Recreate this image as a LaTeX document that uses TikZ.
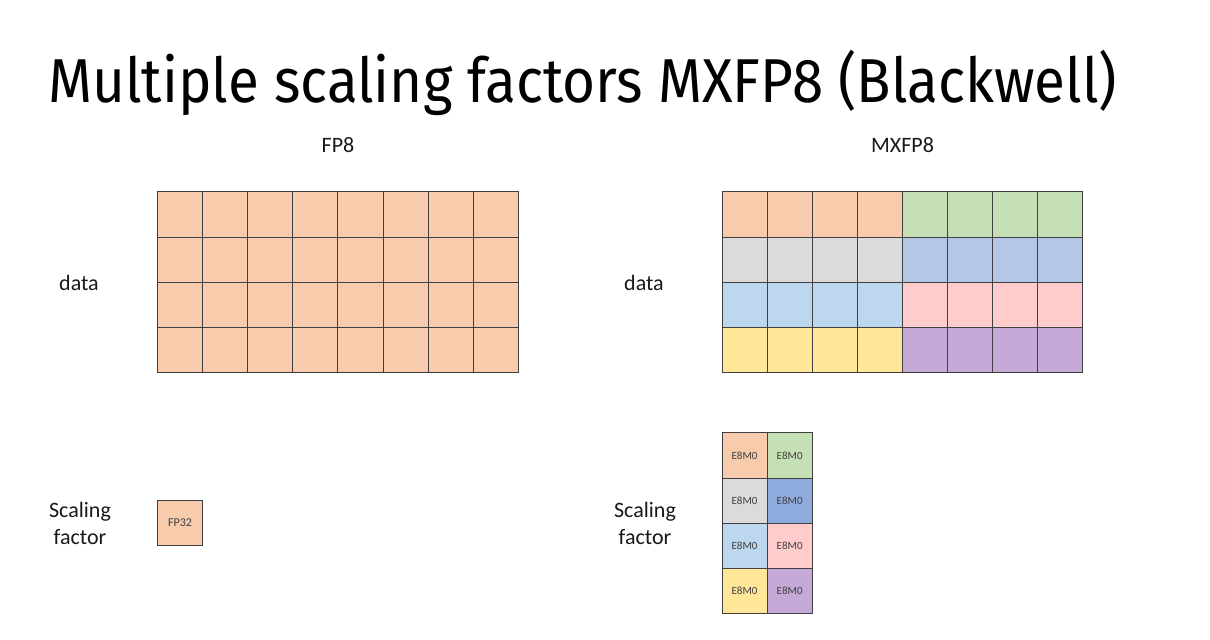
\documentclass[tikz,border=0pt]{standalone}
\usepackage{fontspec}
\setmainfont{Carlito}
\newfontfamily\titlefont[FakeStretch=0.913]{Fira Sans}
\usetikzlibrary{positioning}

\definecolor{cOrange}{HTML}{F8CBAD}
\definecolor{cGreen}{HTML}{C5E0B4}
\definecolor{cGray}{HTML}{DBDBDB}
\definecolor{cBlue}{HTML}{B4C7E7}
\definecolor{cDarkBlue}{HTML}{8FAADC}
\definecolor{cLightBlue}{HTML}{BDD7EE}
\definecolor{cPink}{HTML}{FFCCCC}
\definecolor{cYellow}{HTML}{FFE699}
\definecolor{cPurple}{HTML}{C5A9D7}

\begin{document}
\begin{tikzpicture}[
            x = 0.5pt, y = -0.5pt, % one unit is one pixel
            cell/.style={rectangle, draw=black!75, line width=0.5pt, minimum size=22.55pt, inner sep=0pt},
            scale cell/.style={cell, font=\fontsize{5.5}{6}\selectfont, text=black!75},
            label/.style={font=\fontsize{11}{13.5}\selectfont, align=center, text=black!90}
        ]

        \useasboundingbox (0,0) rectangle (1210,640);
        \node[anchor=base west, inner sep=0pt, font=\titlefont\fontsize{31}{37}\selectfont] (title) at (48,103) {Multiple scaling factors MXFP8 (Blackwell)};

        % Column headings
        \node[label] (fp8-label) at (338,145) {FP8};
        \node[label] (mxfp8-label) at (902.5,145) {MXFP8};

        % Row headings
        \node[label] (data-left) at (79,283) {data};
        \node[label] (data-right) at (644,283) {data};
        \node[label] (scale-left) at (80,523) {Scaling\\factor};
        \node[label] (scale-right) at (645,523) {Scaling\\factor};

        % FP8 data, one colour
        \foreach \r in {1,...,4}
        \foreach \c in {1,...,8}
        \node[cell, fill=cOrange] (L-\r-\c) at ({157.5+(\c-0.5)*45.1}, {192+(\r-0.5)*45.1}) {};

        % FP8 scaling factor
        \node[scale cell, fill=cOrange, font=\fontsize{6}{7}\selectfont] (fp32) at (180,523) {FP32};

        % MXFP8 data, one colour per block of 4
        \foreach \r/\ca/\cb in {1/cOrange/cGreen, 2/cGray/cBlue, 3/cLightBlue/cPink, 4/cYellow/cPurple}
        {
        \foreach \c in {1,...,4}
        \node[cell, fill=\ca] (R-\r-\c) at ({722+(\c-0.5)*45.1}, {192+(\r-0.5)*45.1}) {};
        \foreach \c in {5,...,8}
        \node[cell, fill=\cb] (R-\r-\c) at ({722+(\c-0.5)*45.1}, {192+(\r-0.5)*45.1}) {};
        }

        % MXFP8 scaling factors
        \foreach \r/\ca/\cb in {1/cOrange/cGreen, 2/cGray/cDarkBlue, 3/cLightBlue/cPink, 4/cYellow/cPurple}
        {
        \node[scale cell, fill=\ca] (S-\r-1) at ({722+0.5*45.1}, {433+(\r-0.5)*45.1}) {E8M0};
        \node[scale cell, fill=\cb] (S-\r-2) at ({722+1.5*45.1}, {433+(\r-0.5)*45.1}) {E8M0};
        }

    \end{tikzpicture}
\end{document}
